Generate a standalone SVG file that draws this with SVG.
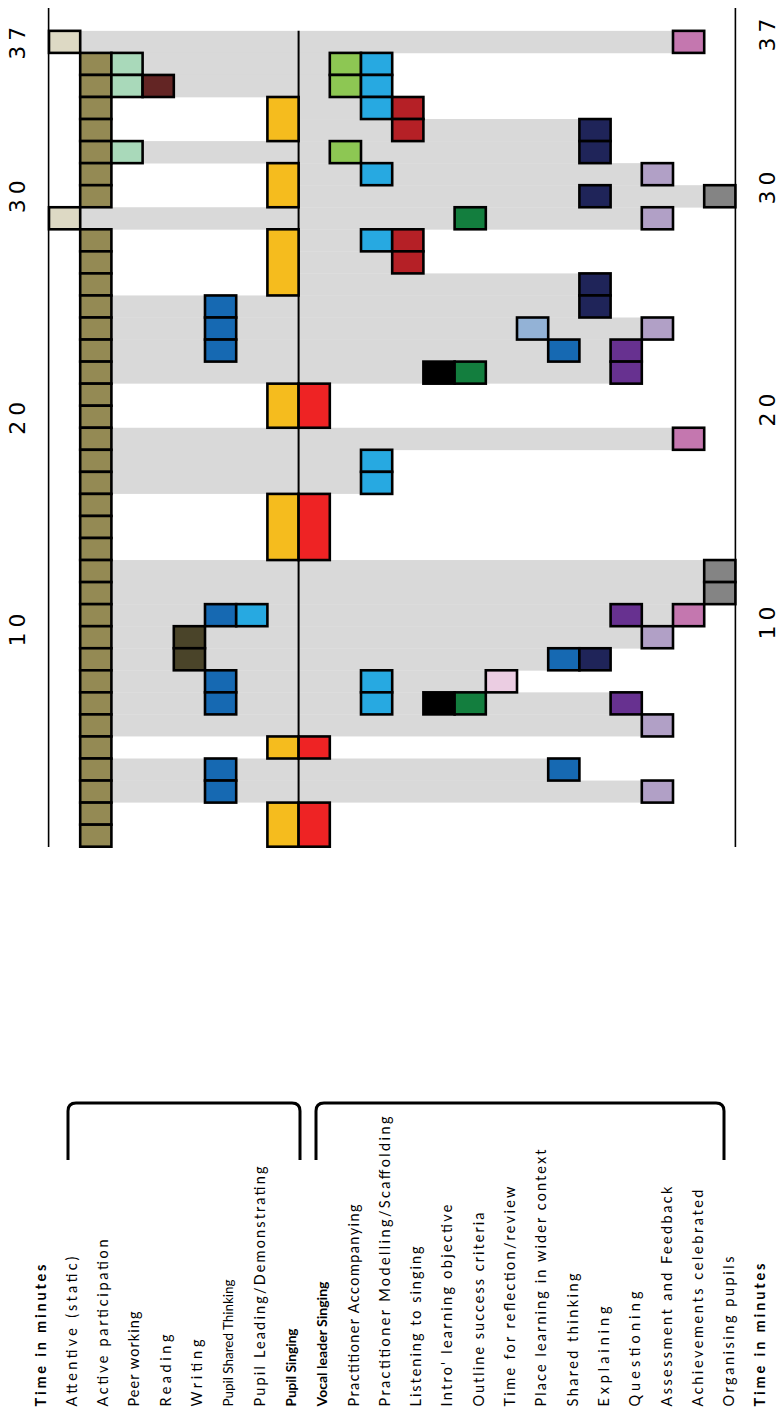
<svg xmlns="http://www.w3.org/2000/svg" width="779" height="1413" viewBox="0 0 779 1413">
<style>
.bd{fill:#D9D9D9}
.k{stroke:#000;stroke-width:2.6}
.f0{fill:#DDD9C4}.f1{fill:#948A54}.f2{fill:#A9D9BA}.f3{fill:#632524}.f4{fill:#4A4429}
.f5{fill:#1669B2}.f6{fill:#27A9E1}.f7{fill:#F5BC1E}.f8{fill:#EE2324}.f9{fill:#8DC753}
.f10{fill:#27A9E1}.f11{fill:#B52026}.f12{fill:#000}.f13{fill:#137E3E}.f14{fill:#EBCDE2}
.f15{fill:#93B2D6}.f16{fill:#1669B2}.f17{fill:#1F2459}.f18{fill:#673190}.f19{fill:#B1A0C6}
.f20{fill:#C477AF}.f21{fill:#848484}
.lb{font-family:Lato,"Noto Sans","Liberation Sans",sans-serif;font-size:14.5px;fill:#000;stroke:none}
.sm{font-size:13.5px}
.bo{font-weight:bold}
.num{font-family:"DejaVu Sans","Liberation Sans",sans-serif;font-size:22px;fill:#000;text-anchor:middle}
.ax{stroke:#000;stroke-width:1.6;fill:none}
.br{stroke:#000;stroke-width:3;fill:none}
</style>
<rect width="779" height="1413" fill="#fff"/>
<g id="connectors">
<g id="bands" class="bd">
<rect x="80.2" y="30.85" width="592.8" height="22.4"/>
<rect x="142.6" y="52.9" width="187.2" height="22.4"/>
<rect x="173.8" y="74.95" width="156" height="22.4"/>
<rect x="298.6" y="97" width="62.4" height="22.4"/>
<rect x="298.6" y="119.05" width="280.8" height="22.4"/>
<rect x="142.6" y="141.1" width="436.8" height="22.4"/>
<rect x="298.6" y="163.15" width="343.2" height="22.4"/>
<rect x="298.6" y="185.2" width="405.6" height="22.4"/>
<rect x="80.2" y="207.25" width="561.6" height="22.4"/>
<rect x="298.6" y="229.3" width="62.4" height="22.4"/>
<rect x="298.6" y="251.35" width="93.6" height="22.4"/>
<rect x="298.6" y="273.4" width="280.8" height="22.4"/>
<rect x="111.4" y="295.45" width="468" height="22.4"/>
<rect x="111.4" y="317.5" width="530.4" height="22.4"/>
<rect x="111.4" y="339.55" width="499.2" height="44.1"/>
<rect x="111.4" y="427.75" width="561.6" height="22.4"/>
<rect x="111.4" y="449.8" width="249.6" height="44.1"/>
<rect x="111.4" y="560.05" width="592.8" height="44.4"/>
<rect x="111.4" y="604.15" width="561.6" height="22.4"/>
<rect x="111.4" y="626.2" width="530.4" height="22.4"/>
<rect x="111.4" y="648.25" width="436.8" height="22.4"/>
<rect x="111.4" y="670.3" width="374.4" height="22.4"/>
<rect x="111.4" y="692.35" width="499.2" height="22.4"/>
<rect x="111.4" y="714.4" width="530.4" height="22.05"/>
<rect x="111.4" y="758.5" width="436.8" height="22.4"/>
<rect x="111.4" y="780.55" width="530.4" height="22.05"/>
</g>
<line x1="298.6" y1="30.85" x2="298.6" y2="846.7" stroke="#000" stroke-width="2"/>
</g>
<g id="axes">
<line class="ax" x1="48.6" y1="8" x2="48.6" y2="847"/>
<line class="ax" x1="735.4" y1="8" x2="735.4" y2="847"/>
<text class="num" transform="translate(25,43.3) rotate(-90)" textLength="33" lengthAdjust="spacing">37</text>
<text class="num" transform="translate(25,196.7) rotate(-90)" textLength="33" lengthAdjust="spacing">30</text>
<text class="num" transform="translate(25,418.3) rotate(-90)" textLength="33" lengthAdjust="spacing">20</text>
<text class="num" transform="translate(25,630) rotate(-90)" textLength="33" lengthAdjust="spacing">10</text>
<text class="num" transform="translate(775,35) rotate(-90)" textLength="33" lengthAdjust="spacing">37</text>
<text class="num" transform="translate(775,188) rotate(-90)" textLength="33" lengthAdjust="spacing">30</text>
<text class="num" transform="translate(775,410) rotate(-90)" textLength="33" lengthAdjust="spacing">20</text>
<text class="num" transform="translate(775,623) rotate(-90)" textLength="33" lengthAdjust="spacing">10</text>
<text class="lb bo" transform="translate(45.5,1406.5) rotate(-90)" textLength="142" lengthAdjust="spacing">Time in minutes</text>
<text class="lb bo" transform="translate(765.4,1406.5) rotate(-90)" textLength="143" lengthAdjust="spacing">Time in minutes</text>
</g>
<g id="brackets">
<path class="br" d="M68,1160 L68,1111 Q68,1103 76,1103 L292,1103 Q300,1103 300,1111 L300,1160"/>
<path class="br" d="M316,1160 L316,1111 Q316,1103 324,1103 L716,1103 Q724,1103 724,1111 L724,1160"/>
</g>
<g id="attentive" class="k f0">
<rect x="49" y="30.85" width="31.2" height="22.05"/>
<rect x="49" y="207.25" width="31.2" height="22.05"/>
<text class="lb" transform="translate(76.8,1406.5) rotate(-90)" textLength="150" lengthAdjust="spacing">Attentive (static)</text>
</g>
<g id="active-participation" class="k f1">
<rect x="80.2" y="52.9" width="31.2" height="22.05"/>
<rect x="80.2" y="74.95" width="31.2" height="22.05"/>
<rect x="80.2" y="97" width="31.2" height="22.05"/>
<rect x="80.2" y="119.05" width="31.2" height="22.05"/>
<rect x="80.2" y="141.1" width="31.2" height="22.05"/>
<rect x="80.2" y="163.15" width="31.2" height="22.05"/>
<rect x="80.2" y="185.2" width="31.2" height="22.05"/>
<rect x="80.2" y="229.3" width="31.2" height="22.05"/>
<rect x="80.2" y="251.35" width="31.2" height="22.05"/>
<rect x="80.2" y="273.4" width="31.2" height="22.05"/>
<rect x="80.2" y="295.45" width="31.2" height="22.05"/>
<rect x="80.2" y="317.5" width="31.2" height="22.05"/>
<rect x="80.2" y="339.55" width="31.2" height="22.05"/>
<rect x="80.2" y="361.6" width="31.2" height="22.05"/>
<rect x="80.2" y="383.65" width="31.2" height="22.05"/>
<rect x="80.2" y="405.7" width="31.2" height="22.05"/>
<rect x="80.2" y="427.75" width="31.2" height="22.05"/>
<rect x="80.2" y="449.8" width="31.2" height="22.05"/>
<rect x="80.2" y="471.85" width="31.2" height="22.05"/>
<rect x="80.2" y="493.9" width="31.2" height="22.05"/>
<rect x="80.2" y="515.95" width="31.2" height="22.05"/>
<rect x="80.2" y="538" width="31.2" height="22.05"/>
<rect x="80.2" y="560.05" width="31.2" height="22.05"/>
<rect x="80.2" y="582.1" width="31.2" height="22.05"/>
<rect x="80.2" y="604.15" width="31.2" height="22.05"/>
<rect x="80.2" y="626.2" width="31.2" height="22.05"/>
<rect x="80.2" y="648.25" width="31.2" height="22.05"/>
<rect x="80.2" y="670.3" width="31.2" height="22.05"/>
<rect x="80.2" y="692.35" width="31.2" height="22.05"/>
<rect x="80.2" y="714.4" width="31.2" height="22.05"/>
<rect x="80.2" y="736.45" width="31.2" height="22.05"/>
<rect x="80.2" y="758.5" width="31.2" height="22.05"/>
<rect x="80.2" y="780.55" width="31.2" height="22.05"/>
<rect x="80.2" y="802.6" width="31.2" height="22.05"/>
<rect x="80.2" y="824.65" width="31.2" height="22.05"/>
<text class="lb" transform="translate(108.1,1406.5) rotate(-90)" textLength="167" lengthAdjust="spacing">Active participation</text>
</g>
<g id="peer-working" class="k f2">
<rect x="111.4" y="52.9" width="31.2" height="22.05"/>
<rect x="111.4" y="74.95" width="31.2" height="22.05"/>
<rect x="111.4" y="141.1" width="31.2" height="22.05"/>
<text class="lb" transform="translate(139.4,1406.5) rotate(-90)" textLength="95" lengthAdjust="spacing">Peer working</text>
</g>
<g id="reading" class="k f3">
<rect x="142.6" y="74.95" width="31.2" height="22.05"/>
<text class="lb" transform="translate(170.7,1406.5) rotate(-90)" textLength="72" lengthAdjust="spacing">Reading</text>
</g>
<g id="writing" class="k f4">
<rect x="173.8" y="626.2" width="31.2" height="22.05"/>
<rect x="173.8" y="648.25" width="31.2" height="22.05"/>
<text class="lb" transform="translate(202,1406.5) rotate(-90)" textLength="67" lengthAdjust="spacing">Writing</text>
</g>
<g id="pupil-shared-thinking" class="k f5">
<rect x="205" y="295.45" width="31.2" height="22.05"/>
<rect x="205" y="317.5" width="31.2" height="22.05"/>
<rect x="205" y="339.55" width="31.2" height="22.05"/>
<rect x="205" y="604.15" width="31.2" height="22.05"/>
<rect x="205" y="670.3" width="31.2" height="22.05"/>
<rect x="205" y="692.35" width="31.2" height="22.05"/>
<rect x="205" y="758.5" width="31.2" height="22.05"/>
<rect x="205" y="780.55" width="31.2" height="22.05"/>
<text class="lb sm" transform="translate(233.3,1406.5) rotate(-90)" textLength="127" lengthAdjust="spacingAndGlyphs">Pupil Shared Thinking</text>
</g>
<g id="pupil-leading" class="k f6">
<rect x="236.2" y="604.15" width="31.2" height="22.05"/>
<text class="lb" transform="translate(264.6,1406.5) rotate(-90)" textLength="240" lengthAdjust="spacing">Pupil Leading/Demonstrating</text>
</g>
<g id="pupil-singing" class="k f7">
<rect x="267.4" y="97" width="31.2" height="44.1"/>
<rect x="267.4" y="163.15" width="31.2" height="44.1"/>
<rect x="267.4" y="229.3" width="31.2" height="66.15"/>
<rect x="267.4" y="383.65" width="31.2" height="44.1"/>
<rect x="267.4" y="493.9" width="31.2" height="66.15"/>
<rect x="267.4" y="736.45" width="31.2" height="22.05"/>
<rect x="267.4" y="802.6" width="31.2" height="44.1"/>
<text class="lb bo sm" transform="translate(295.9,1406.5) rotate(-90)" textLength="78" lengthAdjust="spacingAndGlyphs">Pupil Singing</text>
</g>
<g id="vocal-leader-singing" class="k f8">
<rect x="298.6" y="383.65" width="31.2" height="44.1"/>
<rect x="298.6" y="493.9" width="31.2" height="66.15"/>
<rect x="298.6" y="736.45" width="31.2" height="22.05"/>
<rect x="298.6" y="802.6" width="31.2" height="44.1"/>
<text class="lb bo sm" transform="translate(327.2,1406.5) rotate(-90)" textLength="125" lengthAdjust="spacingAndGlyphs">Vocal leader Singing</text>
</g>
<g id="practitioner-accompanying" class="k f9">
<rect x="329.8" y="52.9" width="31.2" height="22.05"/>
<rect x="329.8" y="74.95" width="31.2" height="22.05"/>
<rect x="329.8" y="141.1" width="31.2" height="22.05"/>
<text class="lb" transform="translate(358.5,1406.5) rotate(-90)" textLength="202" lengthAdjust="spacing">Practitioner Accompanying</text>
</g>
<g id="practitioner-modelling" class="k f10">
<rect x="361" y="52.9" width="31.2" height="22.05"/>
<rect x="361" y="74.95" width="31.2" height="22.05"/>
<rect x="361" y="97" width="31.2" height="22.05"/>
<rect x="361" y="163.15" width="31.2" height="22.05"/>
<rect x="361" y="229.3" width="31.2" height="22.05"/>
<rect x="361" y="449.8" width="31.2" height="22.05"/>
<rect x="361" y="471.85" width="31.2" height="22.05"/>
<rect x="361" y="670.3" width="31.2" height="22.05"/>
<rect x="361" y="692.35" width="31.2" height="22.05"/>
<text class="lb" transform="translate(389.8,1406.5) rotate(-90)" textLength="290" lengthAdjust="spacing">Practitioner Modelling/Scaffolding</text>
</g>
<g id="listening" class="k f11">
<rect x="392.2" y="97" width="31.2" height="22.05"/>
<rect x="392.2" y="119.05" width="31.2" height="22.05"/>
<rect x="392.2" y="229.3" width="31.2" height="22.05"/>
<rect x="392.2" y="251.35" width="31.2" height="22.05"/>
<text class="lb" transform="translate(421.1,1406.5) rotate(-90)" textLength="160" lengthAdjust="spacing">Listening to singing</text>
</g>
<g id="intro-objective" class="k f12">
<rect x="423.4" y="361.6" width="31.2" height="22.05"/>
<rect x="423.4" y="692.35" width="31.2" height="22.05"/>
<text class="lb" transform="translate(452.4,1406.5) rotate(-90)" textLength="202" lengthAdjust="spacing">Intro' learning objective</text>
</g>
<g id="outline-criteria" class="k f13">
<rect x="454.6" y="207.25" width="31.2" height="22.05"/>
<rect x="454.6" y="361.6" width="31.2" height="22.05"/>
<rect x="454.6" y="692.35" width="31.2" height="22.05"/>
<text class="lb" transform="translate(483.7,1406.5) rotate(-90)" textLength="194" lengthAdjust="spacing">Outline success criteria</text>
</g>
<g id="reflection" class="k f14">
<rect x="485.8" y="670.3" width="31.2" height="22.05"/>
<text class="lb" transform="translate(515,1406.5) rotate(-90)" textLength="220" lengthAdjust="spacing">Time for reflection/review</text>
</g>
<g id="wider-context" class="k f15">
<rect x="517" y="317.5" width="31.2" height="22.05"/>
<text class="lb" transform="translate(546.3,1406.5) rotate(-90)" textLength="257" lengthAdjust="spacing">Place learning in wider context</text>
</g>
<g id="shared-thinking" class="k f16">
<rect x="548.2" y="339.55" width="31.2" height="22.05"/>
<rect x="548.2" y="648.25" width="31.2" height="22.05"/>
<rect x="548.2" y="758.5" width="31.2" height="22.05"/>
<text class="lb" transform="translate(577.6,1406.5) rotate(-90)" textLength="133" lengthAdjust="spacing">Shared thinking</text>
</g>
<g id="explaining" class="k f17">
<rect x="579.4" y="119.05" width="31.2" height="22.05"/>
<rect x="579.4" y="141.1" width="31.2" height="22.05"/>
<rect x="579.4" y="185.2" width="31.2" height="22.05"/>
<rect x="579.4" y="273.4" width="31.2" height="22.05"/>
<rect x="579.4" y="295.45" width="31.2" height="22.05"/>
<rect x="579.4" y="648.25" width="31.2" height="22.05"/>
<text class="lb" transform="translate(608.9,1406.5) rotate(-90)" textLength="100" lengthAdjust="spacing">Explaining</text>
</g>
<g id="questioning" class="k f18">
<rect x="610.6" y="339.55" width="31.2" height="22.05"/>
<rect x="610.6" y="361.6" width="31.2" height="22.05"/>
<rect x="610.6" y="604.15" width="31.2" height="22.05"/>
<rect x="610.6" y="692.35" width="31.2" height="22.05"/>
<text class="lb" transform="translate(640.2,1406.5) rotate(-90)" textLength="115" lengthAdjust="spacing">Questioning</text>
</g>
<g id="assessment" class="k f19">
<rect x="641.8" y="163.15" width="31.2" height="22.05"/>
<rect x="641.8" y="207.25" width="31.2" height="22.05"/>
<rect x="641.8" y="317.5" width="31.2" height="22.05"/>
<rect x="641.8" y="626.2" width="31.2" height="22.05"/>
<rect x="641.8" y="714.4" width="31.2" height="22.05"/>
<rect x="641.8" y="780.55" width="31.2" height="22.05"/>
<text class="lb" transform="translate(671.5,1406.5) rotate(-90)" textLength="220" lengthAdjust="spacing">Assessment and Feedback</text>
</g>
<g id="achievements" class="k f20">
<rect x="673" y="30.85" width="31.2" height="22.05"/>
<rect x="673" y="427.75" width="31.2" height="22.05"/>
<rect x="673" y="604.15" width="31.2" height="22.05"/>
<text class="lb" transform="translate(702.8,1406.5) rotate(-90)" textLength="217" lengthAdjust="spacing">Achievements celebrated</text>
</g>
<g id="organising" class="k f21">
<rect x="704.2" y="185.2" width="31.2" height="22.05"/>
<rect x="704.2" y="560.05" width="31.2" height="22.05"/>
<rect x="704.2" y="582.1" width="31.2" height="22.05"/>
<text class="lb" transform="translate(734.1,1406.5) rotate(-90)" textLength="150" lengthAdjust="spacing">Organising pupils</text>
</g>
</svg>
